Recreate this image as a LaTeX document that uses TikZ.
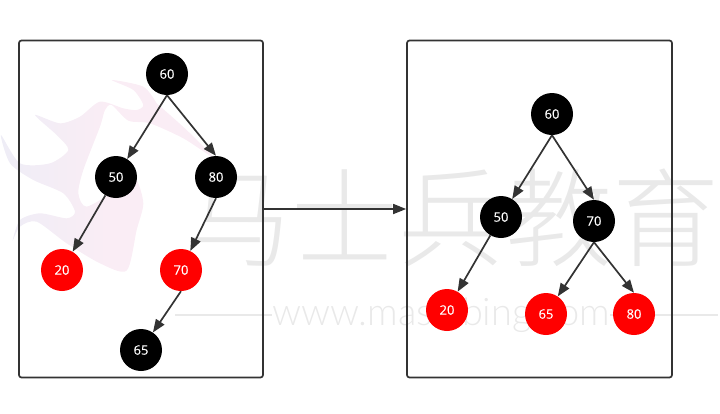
\documentclass[tikz,border=0pt]{standalone}
\usepackage{fontspec}
\setmainfont{Open Sans}
\newfontfamily\labelfont[FakeBold=0.25]{Open Sans}
\newfontfamily\cjkfont{Noto Sans CJK SC Light}
\newfontfamily\urlfont{Lato Light}
\usetikzlibrary{arrows.meta}
\definecolor{linegray}{HTML}{333333}
\definecolor{markgray}{HTML}{E9E9E9}
\definecolor{flamepink}{HTML}{FAEDF5}
\definecolor{flameblue}{HTML}{EEEDF6}

\begin{document}
\begin{tikzpicture}[
    x=1pt, y=-1pt, node distance=93pt,
    treenode/.style={circle, minimum size=42pt, inner sep=0pt, text=white, font=\labelfont\fontsize{13}{15}\selectfont},
    blacknode/.style={treenode, fill=black},
    rednode/.style={treenode, fill=red},
    treebox/.style={draw=linegray, line width=1.7pt, rounded corners=2.5pt, minimum height=337pt, inner sep=0pt},
    link/.style={draw=linegray, line width=1.7pt, -{Triangle[length=13pt, width=10pt]}}
]
\useasboundingbox (0,0) rectangle (720,413);
% Background mark
\begin{scope}[x=0.3333pt, y=-0.3333pt, yshift=-30pt]
\shade[left color=flameblue, right color=flamepink, middle color=flamepink, draw=none] plot[smooth, tension=0.45] coordinates {
    (470,220) (560,300) (640,382) (550,325) (450,280) (385,272) (335,225) (315,240) (300,290) (250,420)
    (235,490) (260,530) (350,480) (405,445) (430,520) (410,600) (380,722) (300,700) (200,640) (110,575)
    (60,590) (38,632) (60,570) (120,550) (200,565) (225,545) (190,490) (100,450) (30,400) (3,315)
    (60,400) (150,400) (205,360) (170,315) (105,255) (180,280) (240,260) (300,215) (370,235) (410,240)
    (430,225) (400,180) (335,150) (430,170) (470,220)};
\end{scope}
\node (mark_cn) [text=markgray, inner sep=0pt, font=\cjkfont\fontsize{107}{107}\selectfont] at (452,218) {马士兵教育};
\node (mark_url) [text=markgray, inner sep=0pt, font=\urlfont\fontsize{38}{38}\selectfont] at (441,315) {www.mashibing.com};
\draw[markgray, line width=1.2pt] (175,315) -- (mark_url.west);
\draw[markgray, line width=1.2pt] (mark_url.east) -- (718,315);
% Boxes
\node (left_box) [treebox, minimum width=244pt] at (141,209) {};
\node (right_box) [treebox, minimum width=265pt] at (539.5,209) {};
% Left tree
\node (left_60) [blacknode] at (167,74) {60};
\node (left_50) [blacknode, below of=left_60, xshift=-51pt, yshift=-10pt] {50};
\node (left_80) [blacknode, below of=left_60, xshift=49pt, yshift=-10pt] {80};
\node (left_20) [rednode, below of=left_50, xshift=-54pt] {20};
\node (left_70) [rednode, below of=left_80, xshift=-35pt] {70};
\node (left_65) [blacknode, below of=left_70, xshift=-40pt, yshift=13pt] {65};
% Right tree
\node (right_60) [blacknode] at (552,114) {60};
\node (right_50) [blacknode, below of=right_60, xshift=-51pt, yshift=-10pt] {50};
\node (right_70) [blacknode, below of=right_60, xshift=42pt, yshift=-14pt] {70};
\node (right_20) [rednode, below of=right_50, xshift=-54pt] {20};
\node (right_65) [rednode, below of=right_70, xshift=-48pt] {65};
\node (right_80) [rednode, below of=right_70, xshift=40pt] {80};
% Draw arrows
\draw[link] (left_box) -- (right_box);
\draw[link] (left_60.south) -- (left_50);
\draw[link] (left_60.south) -- (left_80.north);
\draw[link] (left_50) -- (left_20);
\draw[link] (left_80.south) -- (left_70);
\draw[link] (left_70.south) -- (left_65);
\draw[link] (right_60.south) -- (right_50);
\draw[link] (right_60.south) -- (right_70.north);
\draw[link] (right_50) -- (right_20);
\draw[link] (right_70.south) -- (right_65);
\draw[link] (right_70.south) -- (right_80.north);
\end{tikzpicture}
\end{document}
